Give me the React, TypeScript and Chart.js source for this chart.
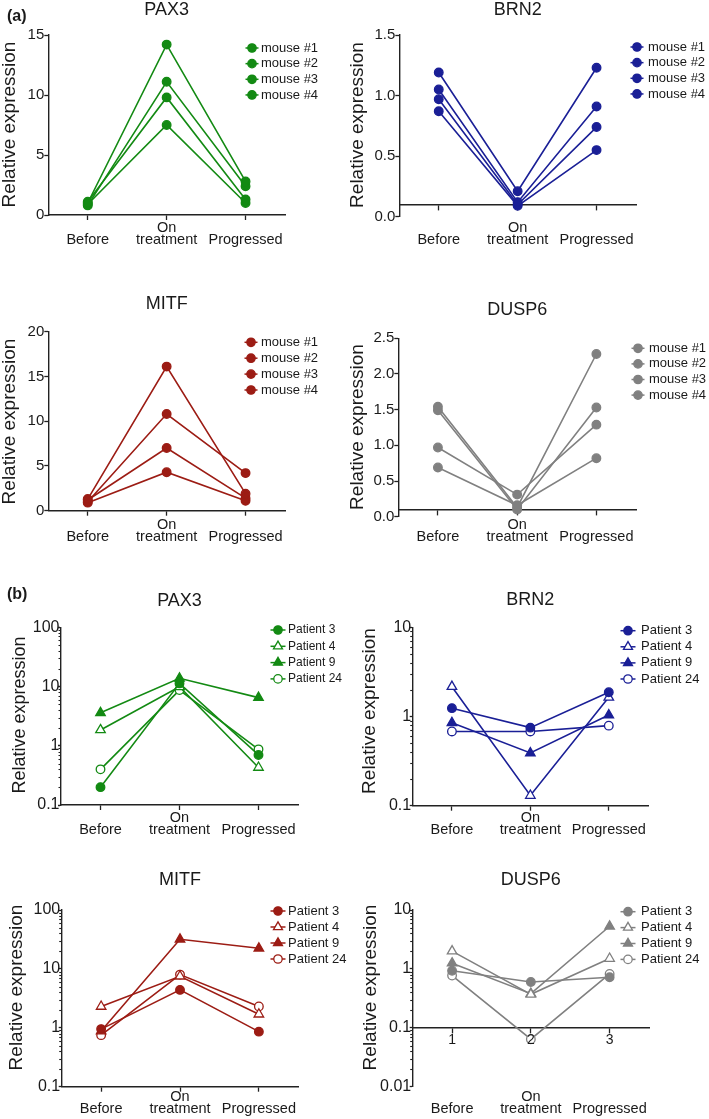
import React, { useEffect, useRef } from 'react';
import { Chart, registerables } from 'chart.js';
import { drawPoint } from 'chart.js/helpers';

Chart.register(...registerables);

const FONT = '"Liberation Sans", Arial, Helvetica, sans-serif';
Chart.defaults.font.family = FONT;

// ---------------- data ----------------
const stageLabels = [['', 'Before'], ['On', 'treatment'], ['', 'Progressed']];
const numberedStages = ['1', '2', '3'];
const mouseNames = ['mouse #1', 'mouse #2', 'mouse #3', 'mouse #4'];
const patientNames = ['Patient 3', 'Patient 4', 'Patient 9', 'Patient 24'];

// (a) mouse xenografts: Before / On treatment / Progressed
const pax3Mouse1 = [1.0, 14.2, 2.8];
const pax3Mouse2 = [0.8, 11.1, 2.4];
const pax3Mouse3 = [1.1, 9.8, 1.3];
const pax3Mouse4 = [0.9, 7.5, 1.0];

const brn2Mouse1 = [1.19, 0.21, 1.23];
const brn2Mouse2 = [1.05, 0.12, 0.91];
const brn2Mouse3 = [0.97, 0.1, 0.74];
const brn2Mouse4 = [0.87, 0.09, 0.55];

const mitfMouse1 = [1.3, 16.1, 1.9];
const mitfMouse2 = [1.0, 10.8, 4.2];
const mitfMouse3 = [1.2, 7.0, 1.4];
const mitfMouse4 = [0.9, 4.3, 1.1];

const dusp6Mouse1 = [1.54, 0.13, 2.28];
const dusp6Mouse2 = [1.49, 0.1, 1.53];
const dusp6Mouse3 = [0.97, 0.31, 1.29];
const dusp6Mouse4 = [0.69, 0.16, 0.82];

// (b) patients
const pax3Patient3 = [0.2, 11.3, 0.7];
const pax3Patient4 = [1.85, 9.9, 0.43];
const pax3Patient9 = [3.6, 13.8, 6.5];
const pax3Patient24 = [0.4, 8.7, 0.87];

const brn2Patient3 = [1.24, 0.75, 1.87];
const brn2Patient4 = [2.16, 0.13, 1.64];
const brn2Patient9 = [0.85, 0.39, 1.04];
const brn2Patient24 = [0.68, 0.68, 0.79];

const mitfPatient3 = [0.95, 4.4, 0.86];
const mitfPatient4 = [2.3, 7.5, 1.7];
const mitfPatient9 = [0.88, 31.8, 22.4];
const mitfPatient24 = [0.75, 8.0, 2.3];

const dusp6Patient3 = [0.93, 0.6, 0.72];
const dusp6Patient4 = [2.0, 0.37, 1.5];
const dusp6Patient9 = [1.25, 0.38, 5.3];
const dusp6Patient24 = [0.77, 0.064, 0.82];

// tick values and labels
const pax3MouseTicks = [0, 5, 10, 15];
const pax3MouseTickLabels = ['0', '5', '10', '15'];
const brn2MouseTicks = [0, 0.5, 1, 1.5];
const brn2MouseTickLabels = ['0.0', '0.5', '1.0', '1.5'];
const mitfMouseTicks = [0, 5, 10, 15, 20];
const mitfMouseTickLabels = ['0', '5', '10', '15', '20'];
const dusp6MouseTicks = [0, 0.5, 1, 1.5, 2, 2.5];
const dusp6MouseTickLabels = ['0.0', '0.5', '1.0', '1.5', '2.0', '2.5'];
const pax3PatientTicks = [0.1, 1, 10, 100];
const pax3PatientTickLabels = ['0.1', '1', '10', '100'];
const brn2PatientTicks = [0.1, 1, 10];
const brn2PatientTickLabels = ['0.1', '1', '10'];
const mitfPatientTicks = [0.1, 1, 10, 100];
const mitfPatientTickLabels = ['0.1', '1', '10', '100'];
const dusp6PatientTicks = [0.01, 0.1, 1, 10];
const dusp6PatientTickLabels = ['0.01', '0.1', '1', '10'];
const axisCrossing = 0.1;

// ---------------- styles ----------------
const GREEN = '#138a13';
const BLUE = '#1a1f96';
const RED = '#9c1c14';
const GREY = '#808080';
const TEXT = '#1a1a1a';
const AXIS = '#222222';
const mouseMarkers = ['circle', 'circle', 'circle', 'circle'];
const mouseFilled = [true, true, true, true];
const patientMarkers = ['circle', 'triangle', 'triangle', 'circle'];
const patientFilled = [true, false, true, false];

const A = { tickFont: 15, tickLen: 4, tickPad: 0, legendSize: 13, half: 6.5 };
const B = { tickFont: 16, tickLen: 3, tickPad: -1.5, legendSize: 13, half: 7.5 };

const panels = [
  {
    title: 'PAX3', color: GREEN, names: mouseNames, series: [pax3Mouse1, pax3Mouse2, pax3Mouse3, pax3Mouse4],
    markers: mouseMarkers, filled: mouseFilled, log: false, ticks: pax3MouseTicks, tickLabels: pax3MouseTickLabels,
    cross: null, crossLabels: null,
    L: { ...A, left: 0, right: 350, area: [48.3, 35, 285, 215], titleY: 10, yTitle: [10, 124.5], yTitleSize: 19, onY: 228, legend: [252, 261, 48, 15.65] },
  },
  {
    title: 'BRN2', color: BLUE, names: mouseNames, series: [brn2Mouse1, brn2Mouse2, brn2Mouse3, brn2Mouse4],
    markers: mouseMarkers, filled: mouseFilled, log: false, ticks: brn2MouseTicks, tickLabels: brn2MouseTickLabels,
    cross: axisCrossing, crossLabels: null,
    L: { ...A, left: 345, right: 709, area: [399.3, 35, 636, 216.7], titleY: 10, yTitle: [357.5, 125], yTitleSize: 19, onY: 228, legend: [637, 648, 47, 15.65] },
  },
  {
    title: 'MITF', color: RED, names: mouseNames, series: [mitfMouse1, mitfMouse2, mitfMouse3, mitfMouse4],
    markers: mouseMarkers, filled: mouseFilled, log: false, ticks: mitfMouseTicks, tickLabels: mitfMouseTickLabels,
    cross: null, crossLabels: null,
    L: { ...A, left: 0, right: 350, area: [48.3, 331.7, 285, 510.7], titleY: 304, yTitle: [10, 421.5], yTitleSize: 19, onY: 525, legend: [251, 261, 342.3, 15.9] },
  },
  {
    title: 'DUSP6', color: GREY, names: mouseNames, series: [dusp6Mouse1, dusp6Mouse2, dusp6Mouse3, dusp6Mouse4],
    markers: mouseMarkers, filled: mouseFilled, log: false, ticks: dusp6MouseTicks, tickLabels: dusp6MouseTickLabels,
    cross: axisCrossing, crossLabels: null,
    L: { ...A, left: 345, right: 709, area: [398.3, 338.3, 636, 516.7], titleY: 310.5, yTitle: [357.5, 427], yTitleSize: 19, onY: 525, legend: [638, 649, 348.3, 15.6] },
  },
  {
    title: 'PAX3', color: GREEN, names: patientNames, series: [pax3Patient3, pax3Patient4, pax3Patient9, pax3Patient24],
    markers: patientMarkers, filled: patientFilled, log: true, ticks: pax3PatientTicks, tickLabels: pax3PatientTickLabels,
    cross: null, crossLabels: null,
    L: { ...B, legendSize: 12, left: 0, right: 350, area: [61, 627.3, 298, 805], titleY: 601.5, yTitle: [20, 715], yTitleSize: 18, onY: 818, legend: [278, 288, 630, 16.3] },
  },
  {
    title: 'BRN2', color: BLUE, names: patientNames, series: [brn2Patient3, brn2Patient4, brn2Patient9, brn2Patient24],
    markers: patientMarkers, filled: patientFilled, log: true, ticks: brn2PatientTicks, tickLabels: brn2PatientTickLabels,
    cross: null, crossLabels: null,
    L: { ...B, left: 345, right: 709, area: [412.7, 627.3, 648, 805.7], titleY: 600, yTitle: [369.5, 711], yTitleSize: 19, onY: 818, legend: [628, 641, 630.7, 16.1] },
  },
  {
    title: 'MITF', color: RED, names: patientNames, series: [mitfPatient3, mitfPatient4, mitfPatient9, mitfPatient24],
    markers: patientMarkers, filled: patientFilled, log: true, ticks: mitfPatientTicks, tickLabels: mitfPatientTickLabels,
    cross: null, crossLabels: null,
    L: { ...B, left: 0, right: 350, area: [61.7, 910, 298.3, 1086.7], titleY: 880.5, yTitle: [16.7, 987.5], yTitleSize: 19, onY: 1096.7, legend: [278, 288, 911, 16] },
  },
  {
    title: 'DUSP6', color: GREY, names: patientNames, series: [dusp6Patient3, dusp6Patient4, dusp6Patient9, dusp6Patient24],
    markers: patientMarkers, filled: patientFilled, log: true, ticks: dusp6PatientTicks, tickLabels: dusp6PatientTickLabels,
    cross: axisCrossing, crossLabels: numberedStages,
    L: { ...B, left: 345, right: 709, area: [412.7, 910, 649, 1086.7], titleY: 880.5, yTitle: [370.5, 987.5], yTitleSize: 19, onY: 1096.7, legend: [628, 641, 911.7, 15.9] },
  },
];

const X_FONT = 14.5;
const X_LH = 0.862;

function findIdx(list: number[], v: number) {
  return list.findIndex((t) => t === v || Math.abs(t - v) <= Math.abs(t) * 1e-6);
}

function buildYTicks(values: number[], log: boolean) {
  if (!log) return values.map((v) => ({ value: v, major: true }));
  const out: any[] = [];
  for (let i = 0; i < values.length; i++) {
    out.push({ value: values[i], major: true });
    if (i < values.length - 1) {
      for (let k = 2; k <= 9; k++) out.push({ value: +(values[i] * k).toPrecision(6), major: false });
    }
  }
  return out;
}

function Panel({ p }: { p: any }) {
  const ref = useRef<HTMLCanvasElement>(null);
  const L = p.L;
  const [aL, aT, aR, aB] = L.area;
  const cLeft = L.left;
  const cTop = Math.floor(L.titleY - 9);
  const cRight = L.right;
  const cBottom = Math.ceil(aB + 42);
  const W = cRight - cLeft;
  const H = cBottom - cTop;

  useEffect(() => {
    const padTop = L.titleY - 9 - cTop;
    const titlePadBottom = aT - L.titleY - 9;
    const yWidth = aL - cLeft;
    const xHeight = cBottom - aB;
    const rFor = (m: string) => (m === 'triangle' ? 5.5 : 4.3);

    const datasets = p.series.map((vals: number[], i: number) => ({
      label: p.names[i],
      data: vals,
      borderColor: p.color,
      backgroundColor: p.color,
      borderWidth: 1.6,
      pointStyle: p.markers[i],
      pointRadius: rFor(p.markers[i]),
      pointHoverRadius: rFor(p.markers[i]),
      pointBorderWidth: 1.3,
      pointBorderColor: p.color,
      pointBackgroundColor: p.filled[i] ? p.color : '#ffffff',
      tension: 0,
      clip: false,
    }));

    const scales: any = {
      y: {
        type: p.log ? 'logarithmic' : 'linear',
        min: p.ticks[0],
        max: p.ticks[p.ticks.length - 1],
        afterBuildTicks: (s: any) => {
          s.ticks = buildYTicks(p.ticks, p.log);
        },
        afterFit: (s: any) => {
          s.width = yWidth;
        },
        ticks: {
          autoSkip: false,
          color: TEXT,
          font: { size: L.tickFont },
          padding: L.tickPad,
          callback: (v: number) => {
            const i = findIdx(p.ticks, v);
            return i >= 0 ? p.tickLabels[i] : '';
          },
        },
        grid: {
          drawOnChartArea: false,
          drawTicks: true,
          tickLength: L.tickLen,
          tickWidth: 1.3,
          tickColor: (c: any) => (c.tick && findIdx(p.ticks, c.tick.value) >= 0 ? AXIS : 'rgba(0,0,0,0)'),
        },
        border: { display: true, color: AXIS, width: 1.4 },
      },
    };

    const xTickFont = { size: X_FONT, lineHeight: X_LH };
    const lhHalf = (X_FONT * X_LH) / 2;

    if (p.cross === null) {
      scales.x = {
        type: 'category',
        labels: stageLabels,
        offset: true,
        position: 'bottom',
        afterFit: (s: any) => {
          s.height = xHeight;
        },
        ticks: {
          color: TEXT,
          font: xTickFont,
          padding: L.onY - aB - 5 - lhHalf,
          maxRotation: 0,
          minRotation: 0,
          autoSkip: false,
        },
        grid: { offset: false, drawOnChartArea: false, drawTicks: true, tickLength: 5, tickWidth: 1.3, tickColor: AXIS },
        border: { display: true, color: AXIS, width: 1.4 },
      };
    } else {
      scales.x = {
        type: 'category',
        axis: 'x',
        labels: p.crossLabels || stageLabels,
        offset: true,
        position: { y: p.cross },
        ticks: {
          display: !!p.crossLabels,
          z: 1,
          color: TEXT,
          font: { size: 14, lineHeight: X_LH },
          padding: 1.3,
          maxRotation: 0,
          minRotation: 0,
          autoSkip: false,
        },
        grid: { offset: false, drawOnChartArea: false, drawTicks: true, tickLength: 5, tickWidth: 1.3, tickColor: AXIS },
        border: { display: true, color: AXIS, width: 1.4 },
      };
      scales.x2 = {
        type: 'category',
        axis: 'x',
        labels: stageLabels,
        offset: true,
        position: 'bottom',
        afterFit: (s: any) => {
          s.height = xHeight;
        },
        ticks: {
          color: TEXT,
          font: xTickFont,
          padding: L.onY - aB - lhHalf,
          maxRotation: 0,
          minRotation: 0,
          autoSkip: false,
        },
        grid: { display: false, drawTicks: false },
        border: { display: false },
      };
    }

    const decor = {
      id: 'decor',
      afterDraw(chart: any) {
        const ctx = chart.ctx;
        const ys = chart.scales.y;
        ctx.save();
        // minor log ticks
        if (p.log) {
          ctx.strokeStyle = AXIS;
          ctx.lineWidth = 1.1;
          ys.ticks.forEach((t: any) => {
            if (findIdx(p.ticks, t.value) < 0) {
              const py = Math.round(ys.getPixelForValue(t.value)) + 0.5;
              ctx.beginPath();
              ctx.moveTo(ys.right - 2.5, py);
              ctx.lineTo(ys.right, py);
              ctx.stroke();
            }
          });
        }
        // y axis title
        ctx.save();
        ctx.translate(L.yTitle[0] - cLeft, L.yTitle[1] - cTop);
        ctx.rotate(-Math.PI / 2);
        ctx.font = `${L.yTitleSize}px ${FONT}`;
        ctx.fillStyle = TEXT;
        ctx.textAlign = 'center';
        ctx.textBaseline = 'middle';
        ctx.fillText('Relative expression', 0, 0);
        ctx.restore();
        // legend
        const [mx, tx, y0, dy] = L.legend;
        p.names.forEach((name: string, i: number) => {
          const x = mx - cLeft;
          const y = y0 + i * dy - cTop;
          ctx.strokeStyle = p.color;
          ctx.lineWidth = 1.5;
          ctx.beginPath();
          ctx.moveTo(x - L.half, y);
          ctx.lineTo(x + L.half, y);
          ctx.stroke();
          ctx.fillStyle = p.filled[i] ? p.color : '#ffffff';
          ctx.lineWidth = 1.3;
          drawPoint(ctx, { pointStyle: p.markers[i], radius: p.markers[i] === 'triangle' ? 5.2 : 4.2, borderWidth: 1.3, rotation: 0 }, x, y);
          ctx.fillStyle = TEXT;
          ctx.font = `${L.legendSize}px ${FONT}`;
          ctx.textAlign = 'left';
          ctx.textBaseline = 'middle';
          ctx.fillText(name, tx - cLeft, y);
        });
        ctx.restore();
      },
    };

    const chart = new Chart(ref.current as HTMLCanvasElement, {
      type: 'line',
      data: { datasets },
      options: {
        responsive: false,
        maintainAspectRatio: false,
        animation: false,
        events: [],
        layout: { padding: { left: 0, top: padTop, right: cRight - aR, bottom: 0 } },
        scales,
        plugins: {
          legend: { display: false },
          tooltip: { enabled: false },
          title: {
            display: true,
            text: p.title,
            fullSize: false,
            color: TEXT,
            font: { size: 18, weight: 'normal', lineHeight: 1 },
            padding: { top: 0, bottom: titlePadBottom },
          },
        },
      } as any,
      plugins: [decor],
    });
    return () => chart.destroy();
  }, []);

  return (
    <canvas
      ref={ref}
      width={W}
      height={H}
      style={{ position: 'absolute', left: cLeft, top: cTop, width: W, height: H, display: 'block' }}
    />
  );
}

export default function App() {
  const labelStyle: React.CSSProperties = {
    position: 'absolute',
    left: 7,
    fontFamily: FONT,
    fontWeight: 'bold',
    fontSize: 16,
    lineHeight: '16px',
    color: TEXT,
  };
  return (
    <div style={{ position: 'absolute', left: 0, top: 0, width: 709, height: 1119, background: '#ffffff', overflow: 'hidden' }}>
      {panels.map((p, i) => (
        <Panel key={i} p={p} />
      ))}
      <div style={{ ...labelStyle, top: 7.5 }}>(a)</div>
      <div style={{ ...labelStyle, top: 586 }}>(b)</div>
    </div>
  );
}
